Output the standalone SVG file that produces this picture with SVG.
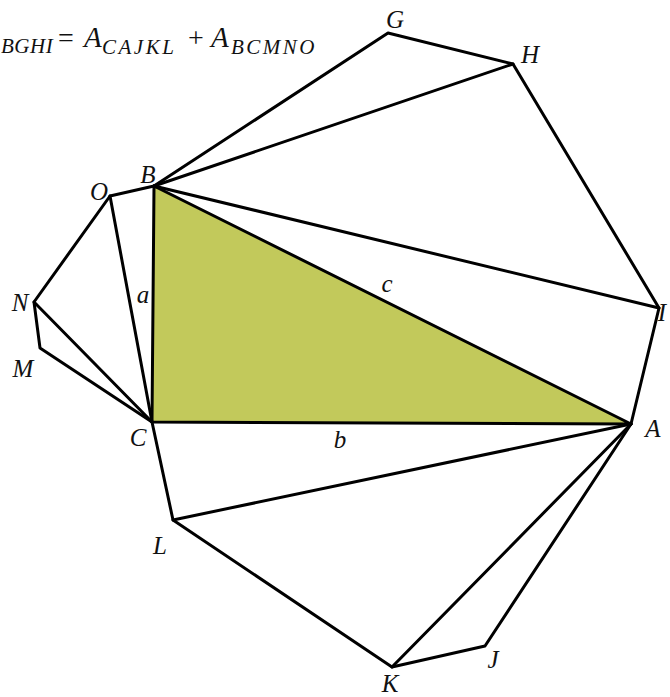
<svg xmlns="http://www.w3.org/2000/svg" width="670" height="697" viewBox="0 0 670 697">
<style>
.ln{stroke:#000;stroke-width:3;fill:none;stroke-linejoin:round;stroke-linecap:round}
.lb{font-family:"Liberation Serif",serif;font-style:italic;font-size:25px;fill:#111;text-anchor:middle}
.fm{font-family:"Liberation Serif",serif;font-style:italic;font-size:29px;fill:#111}
.sb{font-family:"Liberation Serif",serif;font-style:italic;font-size:21px;fill:#111;letter-spacing:2.5px}
.op{font-family:"Liberation Serif",serif;font-size:28px;fill:#111}
</style>
<rect width="670" height="697" fill="#fff"/>
<g id="formula">
<text class="sb" x="1" y="53" style="letter-spacing:0.5px">BGHI</text>
<text class="op" x="58" y="47">=</text>
<text class="fm" x="84" y="47">A</text>
<text class="sb" x="102" y="54">CAJKL</text>
<text class="op" x="188" y="47">+</text>
<text class="fm" x="211" y="47">A</text>
<text class="sb" x="231" y="54">BCMNO</text>
</g>
<g id="triangle">
<polygon points="154,186 152,422 631,424" fill="#c2c95b"/>
</g>
<g id="connectors">
<polyline class="ln" points="154,186 388,33 513,64 659,308 631,424"/>
<line class="ln" x1="154" y1="186" x2="513" y2="64"/>
<line class="ln" x1="154" y1="186" x2="659" y2="308"/>
<polygon class="ln" points="154,186 152,422 631,424"/>
<polyline class="ln" points="154,186 110,196 34,302 40,348 152,422"/>
<line class="ln" x1="110" y1="196" x2="152" y2="422"/>
<line class="ln" x1="34" y1="302" x2="152" y2="422"/>
<polyline class="ln" points="152,422 173,520 392,667 485,646 631,424"/>
<line class="ln" x1="173" y1="520" x2="631" y2="424"/>
<line class="ln" x1="392" y1="667" x2="631" y2="424"/>
</g>
<g id="labels">
<text class="lb" x="148" y="183">B</text>
<text class="lb" x="395" y="28">G</text>
<text class="lb" x="530" y="63">H</text>
<text class="lb" x="662" y="321">I</text>
<text class="lb" x="653" y="437">A</text>
<text class="lb" x="99" y="200">O</text>
<text class="lb" x="20" y="311">N</text>
<text class="lb" x="23" y="377">M</text>
<text class="lb" x="138" y="446">C</text>
<text class="lb" x="160" y="554">L</text>
<text class="lb" x="390" y="692">K</text>
<text class="lb" x="493" y="668">J</text>
<text class="lb" x="143" y="303">a</text>
<text class="lb" x="340" y="448">b</text>
<text class="lb" x="387" y="292">c</text>
</g>
</svg>
